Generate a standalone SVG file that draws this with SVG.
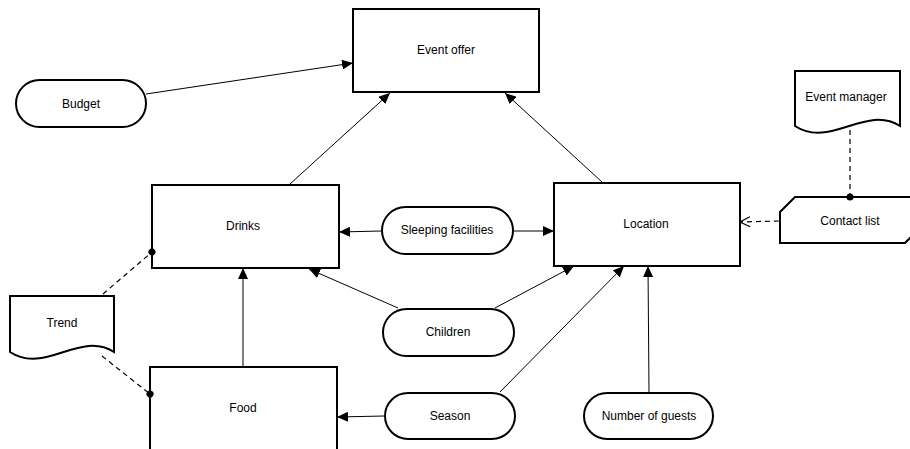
<svg xmlns="http://www.w3.org/2000/svg" width="910" height="449" viewBox="0 0 910 449">
<style>
.n{fill:#fff;stroke:#000;stroke-width:2}
.t{font-family:"Liberation Sans",Arial,sans-serif;font-size:12px;fill:#000;text-anchor:middle;dominant-baseline:central}
.c{fill:none;stroke:#000;stroke-width:1}
.d{fill:none;stroke:#000;stroke-width:1.2;stroke-dasharray:5 4}
</style>
<defs>
<marker id="a" markerUnits="userSpaceOnUse" markerWidth="12" markerHeight="10" refX="11" refY="5" orient="auto"><path d="M0,0 L11,5 L0,10 Z" fill="#000"/></marker>
<marker id="o" markerUnits="userSpaceOnUse" markerWidth="12" markerHeight="12" refX="11" refY="6" orient="auto"><path d="M1,1 L11,6 L1,11" fill="none" stroke="#000" stroke-width="1.2"/></marker>
<marker id="dot" markerUnits="userSpaceOnUse" markerWidth="8" markerHeight="8" refX="4" refY="4" orient="auto"><circle cx="4" cy="4" r="3.5" fill="#000"/></marker>
</defs>
<g id="event-offer"><rect class="n" x="353" y="9" width="186" height="83"/><text class="t" x="446" y="50">Event offer</text></g>
<g id="budget"><rect class="n" x="16" y="80" width="130" height="47" rx="23.5"/><text class="t" x="81" y="104">Budget</text></g>
<g id="drinks"><rect class="n" x="152" y="185" width="187" height="83"/><text class="t" x="243" y="226">Drinks</text></g>
<g id="location"><rect class="n" x="554" y="183" width="186" height="83"/><text class="t" x="646" y="224">Location</text></g>
<g id="food"><rect class="n" x="150" y="367" width="187" height="83"/><text class="t" x="243" y="408">Food</text></g>
<g id="sleeping-facilities"><rect class="n" x="382" y="207" width="131" height="47" rx="23.5"/><text class="t" x="447" y="230">Sleeping facilities</text></g>
<g id="children"><rect class="n" x="383" y="309" width="131" height="47" rx="23.5"/><text class="t" x="448" y="332">Children</text></g>
<g id="season"><rect class="n" x="385" y="393" width="130" height="46" rx="23"/><text class="t" x="450" y="416">Season</text></g>
<g id="number-of-guests"><rect class="n" x="584" y="393" width="129" height="46" rx="23"/><text class="t" x="649" y="416">Number of guests</text></g>
<g id="trend"><path class="n" d="M10,296 H114 V352 C80,330 45,375 10,352 Z"/><text class="t" x="62" y="323">Trend</text></g>
<g id="event-manager"><path class="n" d="M795,71 H900 V126 C866,104 830,149 795,126 Z"/><text class="t" x="846" y="97">Event manager</text></g>
<g id="contact-list"><path class="n" d="M795,197 H920 V228 L905,243 H780 V212 Z"/><text class="t" x="850" y="221">Contact list</text></g>
<g id="connectors">
<path class="c" d="M146,94 L353,63" marker-end="url(#a)"/>
<path class="c" d="M290,184 L390,93" marker-end="url(#a)"/>
<path class="c" d="M602,182 L505,93" marker-end="url(#a)"/>
<path class="c" d="M381,231 L339,232" marker-end="url(#a)"/>
<path class="c" d="M514,231 L554,231" marker-end="url(#a)"/>
<path class="c" d="M398,308 L309,269" marker-end="url(#a)"/>
<path class="c" d="M495,308 L574,266" marker-end="url(#a)"/>
<path class="c" d="M243,366 L243,268" marker-end="url(#a)"/>
<path class="c" d="M384,416 L337,417" marker-end="url(#a)"/>
<path class="c" d="M500,392 L624,266" marker-end="url(#a)"/>
<path class="c" d="M649,392 L648,266" marker-end="url(#a)"/>
<path class="d" d="M779,221 L740,222" marker-end="url(#o)"/>
<path class="d" d="M850,130 L850,197" marker-end="url(#dot)"/>
<path class="d" d="M103,294 L152,252" marker-end="url(#dot)"/>
<path class="d" d="M102,356 L150,394" marker-end="url(#dot)"/>
</g>
</svg>
